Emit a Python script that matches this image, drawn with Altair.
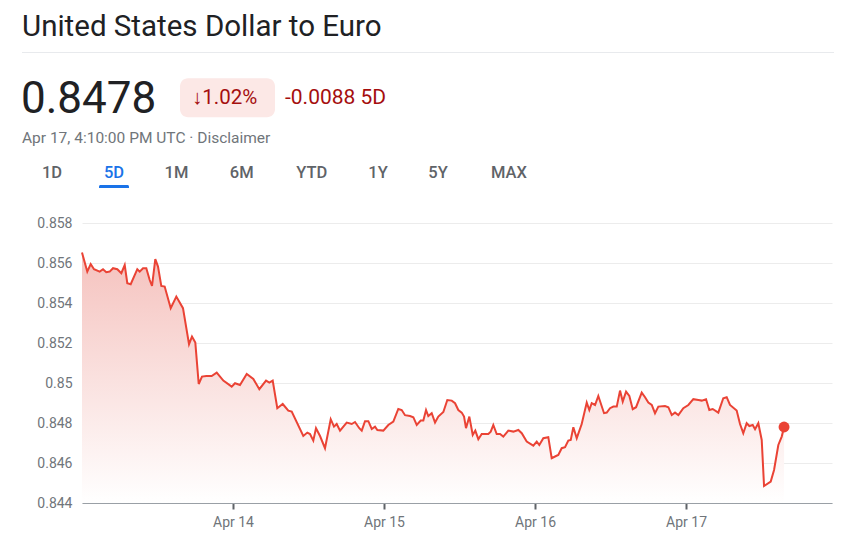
import altair as alt
import pandas as pd

# ---- data (hours since Apr 13 00:00 UTC, USD->EUR rate) ----
HOURS = [
    0, 0.84, 1.38, 1.91, 2.81, 3.34, 3.86, 4.40, 4.93, 5.61,
    6.25, 6.79, 7.20, 7.74, 8.79, 9.17, 9.70, 10.22, 10.76, 11.13,
    11.65, 12.08, 12.60, 13.14, 14.10, 14.99, 16.05, 17.01, 17.48, 18.01,
    18.55, 19.07, 19.76, 20.61, 21.41, 22.46, 23.79, 24.32, 25.11, 26.18,
    27.23, 28.18, 29.25, 29.77, 30.31, 31.04, 31.90, 32.79, 33.33, 35.17,
    35.81, 36.24, 36.76, 37.19, 37.83, 38.62, 39.53, 40.05, 40.48, 41.01,
    42.07, 42.87, 43.39, 44.07, 44.46, 44.98, 45.51, 46.05, 46.57, 46.94,
    47.89, 48.68, 49.48, 50.27, 50.81, 51.34, 52.13, 52.66, 53.20, 53.83,
    54.25, 54.68, 55.04, 55.58, 56.11, 56.63, 57.43, 58.06, 58.76, 59.29,
    59.81, 60.35, 60.72, 61.03, 61.56, 62.10, 62.51, 62.99, 63.53, 64.58,
    64.96, 65.37, 65.91, 66.44, 66.96, 67.76, 68.55, 69.35, 69.89, 70.68,
    71.73, 72.27, 72.68, 73.32, 74.11, 74.65, 75.34, 75.70, 76.24, 76.77,
    77.29, 77.68, 78.09, 78.63, 79.42, 80.22, 80.63, 81.01, 81.54, 82.06,
    82.97, 83.40, 83.92, 84.45, 84.99, 85.51, 85.94, 86.47, 86.99, 87.53,
    88.06, 88.96, 89.49, 90.01, 90.55, 91.07, 91.60, 92.66, 93.19, 93.73,
    94.25, 94.78, 95.57, 96.37, 97.16, 97.96, 98.50, 99.18, 99.70, 100.24,
    101.13, 101.92, 102.46, 102.99, 104.05, 104.58, 105.10, 105.64, 106.06, 106.60,
    106.97, 107.49, 108.03, 108.40, 109.46, 109.99, 110.67, 111.21, 111.58,
]
RATES = [
    0.85652, 0.85557, 0.85595, 0.85569, 0.85557, 0.85569, 0.85554, 0.85557, 0.85574, 0.85569,
    0.85549, 0.85590, 0.85499, 0.85494, 0.85569, 0.85557, 0.85574, 0.85574, 0.85515, 0.85485,
    0.85619, 0.85582, 0.85485, 0.85482, 0.85374, 0.85432, 0.85374, 0.85194, 0.85232, 0.85202,
    0.84995, 0.85032, 0.85035, 0.85035, 0.85052, 0.85012, 0.84982, 0.84999, 0.84990, 0.85045,
    0.85020, 0.84969, 0.85012, 0.85002, 0.85012, 0.84874, 0.84895, 0.84862, 0.84857, 0.84735,
    0.84752, 0.84745, 0.84712, 0.84774, 0.84735, 0.84674, 0.84819, 0.84782, 0.84795, 0.84762,
    0.84802, 0.84795, 0.84805, 0.84774, 0.84762, 0.84809, 0.84809, 0.84770, 0.84782, 0.84765,
    0.84762, 0.84790, 0.84807, 0.84870, 0.84865, 0.84839, 0.84835, 0.84829, 0.84790, 0.84812,
    0.84812, 0.84865, 0.84835, 0.84849, 0.84802, 0.84832, 0.84855, 0.84915, 0.84912, 0.84899,
    0.84865, 0.84852, 0.84832, 0.84774, 0.84832, 0.84740, 0.84762, 0.84719, 0.84745, 0.84745,
    0.84757, 0.84790, 0.84745, 0.84745, 0.84732, 0.84762, 0.84757, 0.84765, 0.84749, 0.84707,
    0.84687, 0.84707, 0.84690, 0.84724, 0.84729, 0.84624, 0.84635, 0.84640, 0.84674, 0.84679,
    0.84712, 0.84715, 0.84779, 0.84724, 0.84795, 0.84902, 0.84865, 0.84899, 0.84890, 0.84935,
    0.84849, 0.84852, 0.84874, 0.84882, 0.84882, 0.84962, 0.84907, 0.84957, 0.84935, 0.84869,
    0.84879, 0.84952, 0.84929, 0.84902, 0.84890, 0.84849, 0.84882, 0.84885, 0.84879, 0.84840,
    0.84852, 0.84840, 0.84874, 0.84890, 0.84919, 0.84915, 0.84912, 0.84919, 0.84865, 0.84870,
    0.84852, 0.84924, 0.84929, 0.84890, 0.84862, 0.84795, 0.84749, 0.84799, 0.84785, 0.84790,
    0.84769, 0.84799, 0.84715, 0.84485, 0.84507, 0.84565, 0.84690, 0.84732, 0.84780,
]
Y_TICKS = [0.844, 0.846, 0.848, 0.85, 0.852, 0.854, 0.856, 0.858]
X_TICK_DAYS = [14, 15, 16, 17]
TITLE = "United States Dollar to Euro"
PRICE = "0.8478"
PCT = "↓1.02%"
CHANGE = "-0.0088 5D"
STAMP = "Apr 17, 4:10:00 PM UTC · Disclaimer"
TABS = ["1D", "5D", "1M", "6M", "YTD", "1Y", "5Y", "MAX"]
ACTIVE_TAB = "5D"

# ---- layout constants ----
TAB_X = [-30, 32, 94.5, 159.7, 229.7, 296, 356, 427]
FONT = "Roboto"
RED = "#ea4335"

base = pd.Timestamp("2026-04-13T00:00:00")
df = pd.DataFrame({
    "t": [(base + pd.Timedelta(hours=h)).strftime("%Y-%m-%dT%H:%M:%SZ") for h in HOURS],
    "rate": RATES,
})
last = df.tail(1)

x_enc = alt.X(
    "t:T",
    scale=alt.Scale(
        type="utc",
        domain=[alt.DateTime(year=2026, month=4, date=13, hours=0, utc=True),
                alt.DateTime(year=2026, month=4, date=17, hours=23, minutes=12, utc=True)],
    ),
    axis=alt.Axis(
        values=[alt.DateTime(year=2026, month=4, date=d, utc=True) for d in X_TICK_DAYS],
        format="%b %d", title=None, grid=False,
        domainColor="#9aa0a6", domainWidth=1,
        tickColor="#5f6368", tickWidth=2, tickSize=6,
        labelFont=FONT, labelFontSize=14, labelColor="#70757a", labelPadding=6,
    ),
)
y_enc = alt.Y(
    "rate:Q",
    scale=alt.Scale(domain=[0.844, 0.858], zero=False, nice=False),
    axis=alt.Axis(
        values=Y_TICKS, format=".3~f", title=None,
        domain=False, ticks=False, labelPadding=10, labelOverlap=False,
        labelFont=FONT, labelFontSize=14, labelColor="#70757a",
        grid=True, gridColor="#ececec", gridWidth=1,
    ),
)

area = alt.Chart(df).mark_area(
    color=alt.Gradient(
        gradient="linear",
        stops=[alt.GradientStop(color="#f5c2be", offset=0),
               alt.GradientStop(color="#ffffff", offset=1)],
        x1=1, x2=1, y1=0, y2=1,
    )
).encode(x=x_enc, y=y_enc, y2=alt.datum(0.844))

line = alt.Chart(df).mark_line(color=RED, strokeWidth=2).encode(x=x_enc, y=y_enc)
dot = alt.Chart(last).mark_circle(color=RED, size=120, opacity=1).encode(x=x_enc, y=y_enc)

one = pd.DataFrame({"k": [0]})


def label(text, x, y, size, color, weight="normal", align="left", baseline="alphabetic"):
    return alt.Chart(one).mark_text(
        font=FONT, fontSize=size, color=color, fontWeight=weight,
        align=align, baseline=baseline,
    ).encode(x=alt.value(x), y=alt.value(y), text=alt.value(text))


layers = [area, line, dot]
layers.append(label(TITLE, -60, -187.5, 29.5, "#202124"))
layers.append(alt.Chart(one).mark_rule(color="#e8eaed", strokeWidth=1).encode(
    x=alt.value(-60), x2=alt.value(760), y=alt.value(-170.5)))
layers.append(label(PRICE, -61, -110.5, 44, "#202124"))
layers.append(alt.Chart(one).mark_rect(color="#fce8e6", cornerRadius=8).encode(
    x=alt.value(98), x2=alt.value(193), y=alt.value(-144.7), y2=alt.value(-105.7)))
layers.append(label(PCT, 110, -119, 20.5, "#a50e0e"))
layers.append(label(CHANGE, 203, -119, 21, "#a50e0e"))
layers.append(label(STAMP, -60, -80.5, 15.5, "#70757a"))
for tab, tx in zip(TABS, TAB_X):
    col = "#1a73e8" if tab == ACTIVE_TAB else "#5f6368"
    layers.append(label(tab, tx, -44.7, 16.5, col, weight=500, align="center"))
layers.append(alt.Chart(one).mark_rect(color="#1a73e8", cornerRadiusTopLeft=3,
                                       cornerRadiusTopRight=3).encode(
    x=alt.value(17), x2=alt.value(47), y=alt.value(-38), y2=alt.value(-35)))

chart = alt.layer(*layers).properties(
    width=750, height=280,
    padding={"left": 74, "top": 215, "right": 2, "bottom": 30},
    autosize=alt.AutoSizeParams(type="none"),
    background="white",
).configure_view(stroke=None)

chart.save("out.html", embed_options={"renderer": "svg", "actions": False})
